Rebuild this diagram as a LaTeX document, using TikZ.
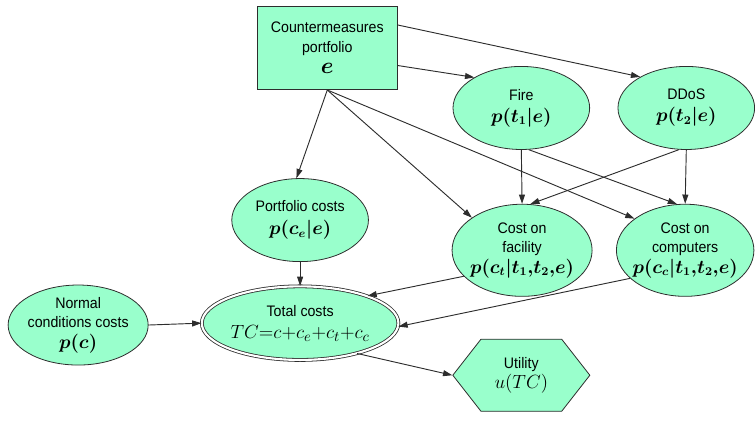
\documentclass[tikz,border=0pt]{standalone}
\usepackage{fontspec}
\setmainfont{Liberation Sans}[FakeStretch=0.93]
\usetikzlibrary{arrows.meta,positioning,shapes.geometric,shapes.symbols}
\definecolor{NodeMint}{RGB}{153,255,204}
\definecolor{EdgeDark}{RGB}{45,45,45}
\newcommand{\probtxt}[1]{{\fontsize{13.5}{15}\selectfont\boldmath$#1$}}

\begin{document}
\begin{tikzpicture}[
    decision/.style={rectangle, draw=EdgeDark, fill=NodeMint, line width=0.8pt,
                     minimum width=3.71cm, minimum height=2.20cm, align=center,
                     font=\fontsize{11.5}{15}\selectfont},
    chance/.style={ellipse, draw=EdgeDark, fill=NodeMint, line width=0.6pt,
                   inner sep=0pt, minimum width=3.62cm, minimum height=2.2cm,
                   align=center, font=\fontsize{11.5}{14.5}\selectfont},
    total/.style={chance, draw=EdgeDark, double=white, double distance=1.6pt,
                  minimum width=5.0cm, minimum height=1.95cm},
    utility/.style={signal, signal to=west and east, signal pointer angle=104,
                    draw=EdgeDark, fill=NodeMint, line width=0.6pt,
                    minimum width=3.63cm, minimum height=1.91cm, inner sep=0pt,
                    align=center, font=\fontsize{11.5}{14.5}\selectfont},
    arr/.style={-{Triangle[length=7pt,width=4.5pt]}, line width=0.7pt, EdgeDark}
  ]
    \useasboundingbox (0,0) rectangle (20.0,-11.29);

    \node[decision] (cm) at (8.67,-1.27) {Countermeasures\\portfolio\\[1pt]{\fontsize{17}{17}\selectfont\boldmath$e$}};

    \node[chance] (fire) at (13.81,-2.86) {Fire\\[2pt]\probtxt{p(t_1|e)}};
    \node[chance] (ddos) at (18.18,-2.86) {DDoS\\[2pt]\probtxt{p(t_2|e)}};

    \node[chance] (pc) at (7.95,-5.83) {Portfolio costs\\[3pt]\probtxt{p(c_e|e)}};
    \node[chance, inner xsep=-3pt, minimum width=3.71cm, minimum height=2.44cm] (fac) at (13.83,-6.63)
        {Cost on\\facility\\[1pt]\probtxt{p(c_t|t_1{,}t_2{,}e)}};
    \node[chance, inner xsep=-3pt, minimum width=3.60cm, minimum height=2.44cm] (comp) at (18.15,-6.63)
        {Cost on\\computers\\[1pt]\probtxt{p(c_c|t_1{,}t_2{,}e)}};

    \node[chance, inner xsep=-3pt, minimum width=3.71cm, minimum height=2.12cm] (nc) at (2.07,-8.61)
        {Normal\\conditions costs\\[1pt]\probtxt{p(c)}};
    \node[total] (tc) at (7.95,-8.56)
        {Total costs\\[2pt]{\fontsize{15}{17}\selectfont$TC{=}c{+}c_e{+}c_t{+}c_c$}};

    \node[utility] (ut) at (13.81,-9.94) {Utility\\[1pt]{\fontsize{15}{17}\selectfont$u(TC)$}};

    \draw[arr] (cm.18) -- (ddos.146);
    \draw[arr] (cm.-14) -- (fire.147);
    \draw[arr] (cm.south) -- (pc.95);
    \draw[arr] (cm.south) -- (fac.147);
    \draw[arr] (cm.south) -- (comp.148);
    \draw[arr] (fire.south) -- (fac.north);
    \draw[arr] (fire.-80) -- (comp.100);
    \draw[arr] (ddos.-100) -- (fac.80);
    \draw[arr] (ddos.south) -- (comp.north);
    \draw[arr] (pc.south) -- (tc.north);
    \draw[arr] (fac.204) -- (tc.22);
    \draw[arr] (comp.207) -- (tc.-2);
    \draw[arr] (nc.east) -- (tc.west);
    \draw[arr] (tc.-28) -- (ut.west);
  \end{tikzpicture}
\end{document}
